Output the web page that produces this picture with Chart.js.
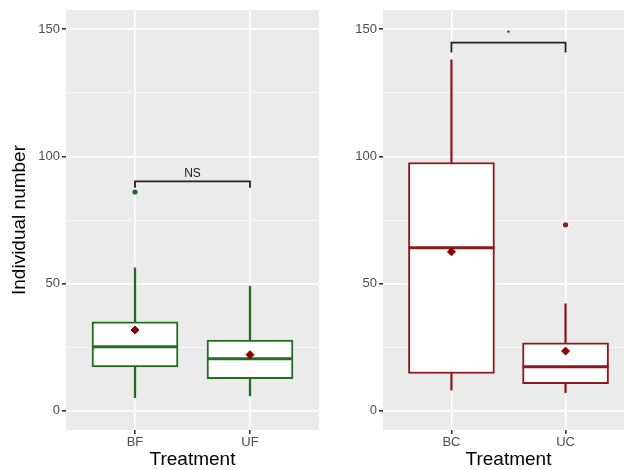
<!DOCTYPE html>
<html><head><meta charset="utf-8">
<script src="https://cdn.jsdelivr.net/npm/chart.js@4"></script>
<style>
html,body{margin:0;padding:0;background:#fff;overflow:hidden;width:624px;height:470px;}
#wrap{position:relative;width:624px;height:470px;overflow:hidden;}
canvas{position:absolute;top:0;}
#c1{left:0;}
#c2{left:322px;}
</style></head><body>
<div id="wrap"><canvas id="c1" width="322" height="470"></canvas><canvas id="c2" width="322" height="470"></canvas></div>
<script>
// ---- data ----
const yTickValues = [0, 25, 50, 75, 100, 125, 150];
const yTickLabels = ['0', '', '50', '', '100', '', '150'];

const leftCats = ['BF', 'UF'];
const leftWhiskerLow = [5.2, 5.9];
const leftQ1 = [17.3, 12.7];
const leftMedian = [25.2, 20.5];
const leftQ3 = [35.0, 27.8];
const leftWhiskerHigh = [56.2, 49.0];
const leftMean = [31.8, 22.1];
const leftOutliers = [[86.0], []];
const leftBracketTop = 90.2;
const leftBracketTip = 87.7;
const leftSigText = 'NS';
const leftSigY = 93.0;

const rightCats = ['BC', 'UC'];
const rightWhiskerLow = [8.1, 7.2];
const rightQ1 = [14.7, 10.7];
const rightMedian = [64.1, 17.3];
const rightQ3 = [97.6, 26.7];
const rightWhiskerHigh = [137.9, 42.1];
const rightMean = [62.5, 23.5];
const rightOutliers = [[], [73.1]];
const rightBracketTop = 144.7;
const rightBracketTip = 140.8;
const rightSigText = '*';
const rightSigY = 148.3;

const FONT = "'Liberation Sans', Arial, sans-serif";

const panelBg = {
  id: 'panelBg',
  beforeDraw(chart) {
    const {ctx, chartArea: a} = chart;
    ctx.save();
    ctx.fillStyle = '#EBEBEB';
    ctx.fillRect(a.left, a.top, a.right - a.left, a.bottom - a.top);
    ctx.restore();
  }
};
const sigLabel = {
  id: 'sigLabel',
  afterDatasetsDraw(chart, args, opts) {
    const {ctx} = chart;
    const x = chart.scales.x.getPixelForValue(opts.x);
    const y = chart.scales.y.getPixelForValue(opts.y);
    ctx.save();
    ctx.fillStyle = '#222';
    ctx.font = opts.size + 'px ' + FONT;
    ctx.textAlign = 'center';
    ctx.textBaseline = 'middle';
    ctx.fillText(opts.text, x, y);
    ctx.restore();
  }
};

function makePanel(id, cats, wLo, q1, med, q3, wHi, mean, outl, bTop, bTip, sigText, sigY, color, cfg) {
  const xs = cats.map((c, i) => i + 1);
  const outPts = [];
  outl.forEach((arr, i) => arr.forEach(v => outPts.push({x: xs[i], y: v})));
  const datasets = [
    {type: 'bar', data: xs.map((x, i) => ({x, y: [wLo[i], wHi[i]]})), backgroundColor: color,
     barThickness: 1.6, grouped: false, order: 6, borderWidth: 0},
    {type: 'bar', data: xs.map((x, i) => ({x, y: [q1[i], q3[i]]})), backgroundColor: '#FFFFFF',
     borderColor: color, borderWidth: 2, borderSkipped: false, barThickness: 86, grouped: false, order: 5},
    {type: 'line', data: xs.map((x, i) => ({x, y: med[i]})), showLine: false, pointStyle: 'line',
     pointRadius: 43, pointBorderWidth: 3, pointBorderColor: color, borderColor: color, order: 4},
    {type: 'line', data: outPts, showLine: false, pointStyle: 'circle', pointRadius: 2.6,
     pointBackgroundColor: color, pointBorderColor: color, pointBorderWidth: 0, order: 3},
    {type: 'line', data: xs.map((x, i) => ({x, y: mean[i]})), showLine: false, pointStyle: 'rectRot',
     pointRadius: 4, pointBackgroundColor: '#8B0000', pointBorderColor: '#8B0000', pointBorderWidth: 1, order: 2},
    {type: 'line', data: [{x: xs[0], y: bTip}, {x: xs[0], y: bTop}, {x: xs[1], y: bTop}, {x: xs[1], y: bTip}],
     showLine: true, pointRadius: 0, borderColor: '#222', borderWidth: 1.8, fill: false,
     borderJoinStyle: 'miter', borderCapStyle: 'butt', order: 1}
  ];
  return new Chart(document.getElementById(id), {
    type: 'bar',
    data: {datasets},
    plugins: [panelBg, sigLabel],
    options: {
      responsive: false, animation: false,
      layout: {autoPadding: false, padding: {top: 10, right: cfg.rightPad, left: 0, bottom: 0}},
      plugins: {legend: {display: false}, tooltip: {enabled: false},
        sigLabel: {text: sigText, x: (xs[0] + xs[1]) / 2, y: sigY, size: cfg.sigSize}},
      scales: {
        x: {
          type: 'linear', min: 0.4, max: 2.6, offset: false,
          afterBuildTicks: s => { s.ticks = xs.map(v => ({value: v})); },
          afterFit: s => { s.height = 40; },
          ticks: {callback: v => cats[Math.round(v) - 1], color: '#4D4D4D', font: {size: 13, family: FONT}, padding: 1, maxRotation: 0, autoSkip: false},
          grid: {offset: false, color: '#FFFFFF', lineWidth: 1.6, tickColor: '#333333', tickLength: 4, drawTicks: true},
          border: {display: false},
          title: {display: true, text: 'Treatment', color: '#000', font: {size: 19, family: FONT, lineHeight: 1}, padding: {top: 0, bottom: 0.5}}
        },
        y: {
          type: 'linear', min: -7.5, max: 157.5,
          afterBuildTicks: s => { s.ticks = yTickValues.map(v => ({value: v})); },
          afterFit: s => { s.width = cfg.leftWidth; },
          ticks: {callback: (v, i) => yTickLabels[i], color: '#4D4D4D', font: {size: 13, family: FONT}, padding: 2, autoSkip: false},
          grid: {color: '#FFFFFF', lineWidth: c => (c.tick && c.tick.value % 50 === 0) ? 1.6 : 0.7,
                 tickColor: c => (c.tick && c.tick.value % 50 === 0) ? '#333333' : 'rgba(0,0,0,0)', tickLength: 4, drawTicks: true},
          border: {display: false},
          title: {display: cfg.yTitle, text: 'Individual number', color: '#000', font: {size: 19, family: FONT, lineHeight: 1}, padding: {top: 10, bottom: 0}}
        }
      }
    }
  });
}

makePanel('c1', leftCats, leftWhiskerLow, leftQ1, leftMedian, leftQ3, leftWhiskerHigh, leftMean, leftOutliers,
  leftBracketTop, leftBracketTip, leftSigText, leftSigY, '#236D23', {yTitle: true, leftWidth: 66, rightPad: 3, sigSize: 12});
makePanel('c2', rightCats, rightWhiskerLow, rightQ1, rightMedian, rightQ3, rightWhiskerHigh, rightMean, rightOutliers,
  rightBracketTop, rightBracketTip, rightSigText, rightSigY, '#8B1A1A', {yTitle: false, leftWidth: 61, rightPad: 10, sigSize: 9});
</script>
</body></html>
